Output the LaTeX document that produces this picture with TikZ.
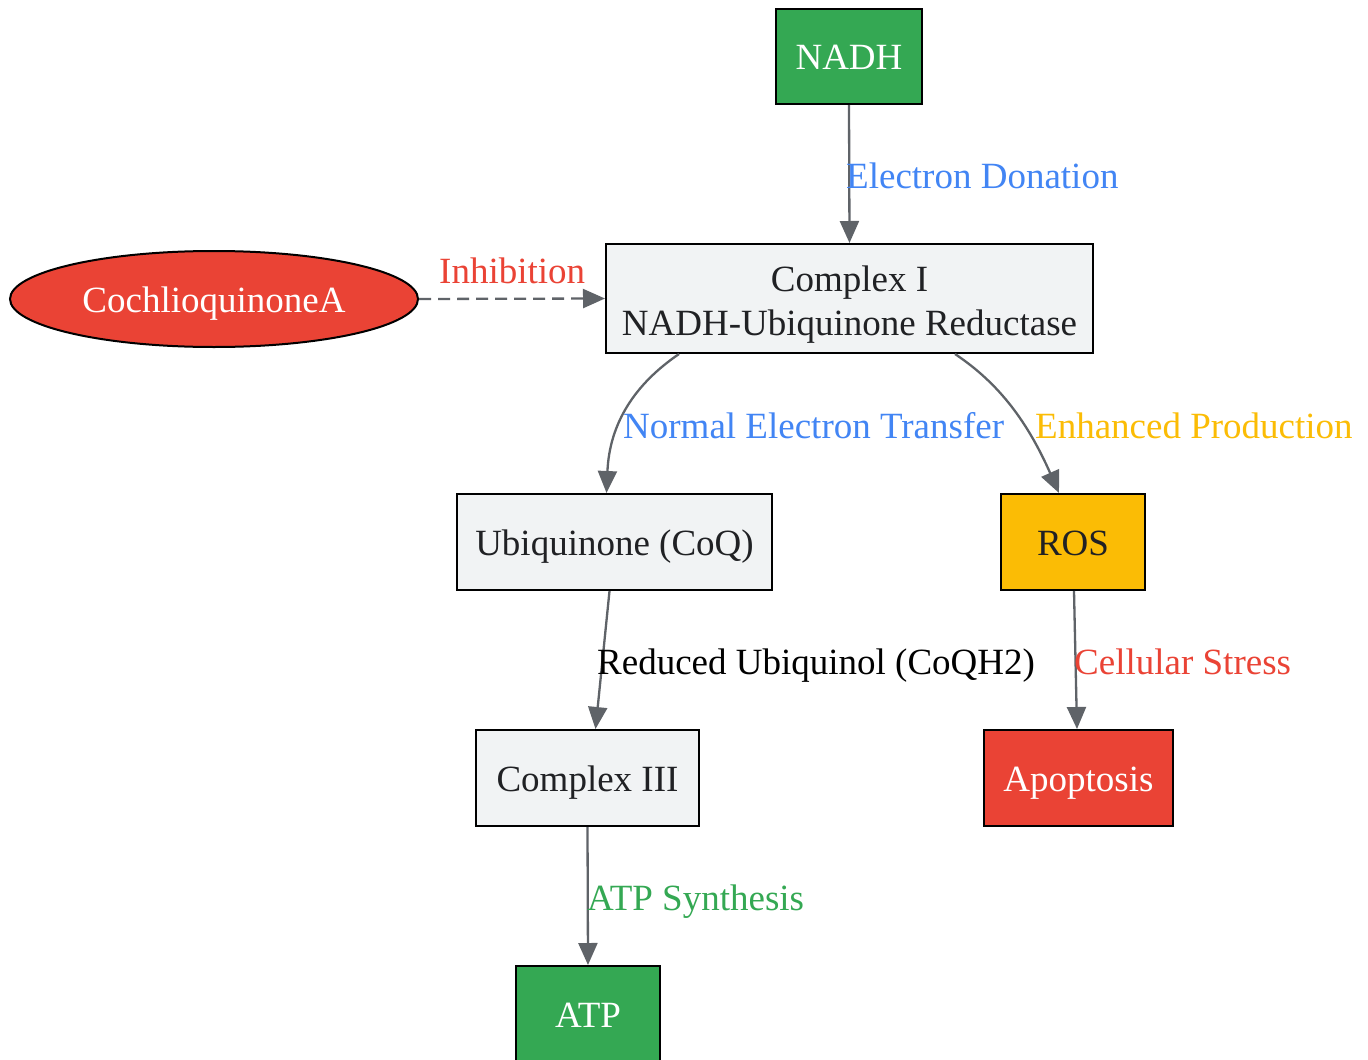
\documentclass[tikz,border=0pt]{standalone}
\usepackage{fontspec}
\setmainfont{Liberation Serif}
\usetikzlibrary{arrows.meta,calc,shapes.geometric}
\definecolor{ggreen}{HTML}{34A853}
\definecolor{gred}{HTML}{EA4335}
\definecolor{gyellow}{HTML}{FBBC05}
\definecolor{gblue}{HTML}{4285F4}
\definecolor{ggray}{HTML}{F1F3F4}
\definecolor{gtext}{HTML}{202124}
\definecolor{gedge}{HTML}{5F6368}
\tikzset{
  base/.style={draw=black, line width=2pt, inner sep=0pt, font=\fontsize{37}{44}\selectfont},
  oneline/.style={text height=26pt, text depth=0pt},
  boxnode/.style={base, rectangle, fill=ggray, text=gtext},
  greennode/.style={base, oneline, rectangle, fill=ggreen, text=white},
  rednode/.style={base, oneline, rectangle, fill=gred, text=white},
  yellownode/.style={base, oneline, rectangle, fill=gyellow, text=gtext},
  ellnode/.style={base, oneline, ellipse, fill=gred, text=white},
  conn/.style={draw=gedge, line width=2.3pt, -{Triangle[length=22pt,width=19pt]}},
  lbl/.style={inner sep=0pt, anchor=base west, font=\fontsize{37}{44}\selectfont}
}
\begin{document}
\begin{tikzpicture}[x=1pt,y=-1pt]
\useasboundingbox (0,0) rectangle (1368,1060);
\node[greennode, minimum width=146pt, minimum height=95pt] (nadh) at (849,56.5) {NADH};
\node[boxnode, align=center, minimum width=487pt, minimum height=109pt] (c1) at (849.5,298.5) {\rule{0pt}{38pt}Complex I\\[0pt]NADH-Ubiquinone Reductase};
\node[ellnode, minimum width=408pt, minimum height=96pt] (cq) at (214,299) {CochlioquinoneA};
\node[boxnode, oneline, minimum width=315pt, minimum height=96pt] (ubi) at (614.5,542) {Ubiquinone (CoQ)};
\node[yellownode, minimum width=144pt, minimum height=96pt] (ros) at (1073,542) {ROS};
\node[boxnode, oneline, minimum width=223pt, minimum height=96pt] (c3) at (587.5,778) {Complex III};
\node[rednode, minimum width=189pt, minimum height=96pt] (apo) at (1078.5,778) {Apoptosis};
\node[greennode, minimum width=144pt, minimum height=96pt] (atp) at (588,1014) {ATP};

\draw[conn] (nadh.south) -- (c1.north);
\node[lbl, text=gblue] (l1) at (846,188) {Electron Donation};

\draw[conn, dash pattern=on 12pt off 7pt] (cq.east) -- (c1.west);
\node[lbl, text=gred] (l2) at (439,283) {Inhibition};

\draw[conn] ($(c1.south west)+(74,0)$) .. controls ($(c1.south west)+(30,30)$) and ($(ubi.north)+(-5,-70)$) .. ($(ubi.north)+(-8,0)$);
\node[lbl, text=gblue] (l3) at (623,438) {Normal Electron Transfer};

\draw[conn] ($(c1.south west)+(350,0)$) .. controls ($(c1.south west)+(395,30)$) and ($(ros.north)+(-45,-70)$) .. ($(ros.north)+(-14,0)$);
\node[lbl, text=gyellow] (l4) at (1035,438) {Enhanced Production};

\draw[conn] ($(ubi.south)+(-5,0)$) -- ($(c3.north)+(8,0)$);
\node[lbl, text=black] (l5) at (597,674) {Reduced Ubiquinol (CoQH2)};

\draw[conn] ($(ros.south)+(1,0)$) -- ($(apo.north)+(-1.5,0)$);
\node[lbl, text=gred] (l6) at (1074,674) {Cellular Stress};

\draw[conn] (c3.south) -- (atp.north);
\node[lbl, text=ggreen] (l7) at (587,910) {ATP Synthesis};
\end{tikzpicture}
\end{document}
